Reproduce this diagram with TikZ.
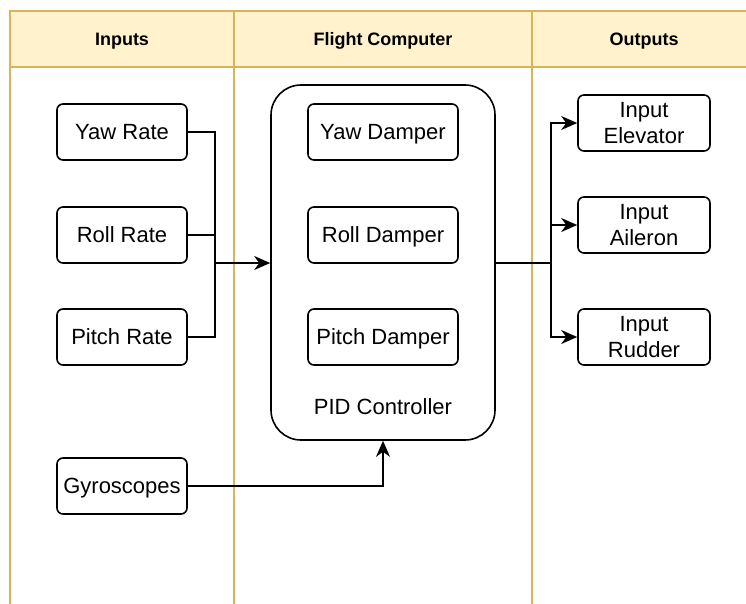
\documentclass[tikz,border=0pt]{standalone}
\usepackage{fontspec}
\setmainfont{Liberation Sans}
\usetikzlibrary{arrows.meta}
\definecolor{laneline}{HTML}{D6B656}
\definecolor{lanefill}{HTML}{FFF2CC}
\tikzset{
  box/.style={draw, line width=1.6pt, rounded corners=6pt, minimum width=130pt,
    minimum height=56pt, inner sep=0pt, align=center,
    text height=19.5pt, text depth=4pt,
    font=\fontsize{22}{26}\selectfont},
  twoline/.style={box, minimum width=132pt, text height=45.5pt},
  lanehead/.style={font=\bfseries\fontsize{18}{21}\selectfont},
  wire/.style={line width=1.6pt},
  arrow/.style={wire, -{Stealth[length=16pt, width=14pt, inset=5pt]}},
}
\begin{document}
\begin{tikzpicture}[x=1pt, y=-1pt]
\useasboundingbox (0,0) rectangle (746,603);

% swimlane table
\fill[lanefill] (10,11) rectangle (760,67);
\draw[laneline, line width=1.4pt] (760,11) -- (10,11) -- (10,610);
\draw[laneline, line width=1.4pt] (10,67) -- (760,67);
\draw[laneline, line width=1.4pt] (234,11) -- (234,610);
\draw[laneline, line width=1.4pt] (532,11) -- (532,610);
\node[lanehead] (hin) at (122,41) {Inputs};
\node[lanehead] (hfc) at (383,41) {Flight Computer};
\node[lanehead] (hout) at (644,41) {Outputs};

% sensors
\node[box] (yawrate) at (122,132) {Yaw Rate};
\node[box] (rollrate) at (122,235) {Roll Rate};
\node[box] (pitchrate) at (122,337) {Pitch Rate};
\node[box] (gyro) at (122,486) {Gyroscopes};

% flight computer
\node[draw, line width=1.6pt, rounded corners=30pt, minimum width=224pt,
  minimum height=355pt, inner sep=0pt] (pid) at (383,262.5) {};
\node[box, minimum width=150pt] (yawd) at (383,132) {Yaw Damper};
\node[box, minimum width=150pt] (rolld) at (383,235) {Roll Damper};
\node[box, minimum width=150pt] (pitchd) at (383,337) {Pitch Damper};
\node[font=\fontsize{22}{26}\selectfont, text height=19.5pt, text depth=4pt,
  inner sep=0pt] (pidlabel) at (383,407) {PID Controller};

% actuator commands
\node[twoline] (elev) at (644,123) {Input\\Elevator};
\node[twoline] (ail) at (644,225) {Input\\Aileron};
\node[twoline] (rud) at (644,337) {Input\\Rudder};

% input bus
\coordinate (busL) at (215,263);
\draw[wire] (yawrate.east) -| (busL) |- (pitchrate.east);
\draw[wire] (rollrate.east) -- (rollrate.east -| busL);
\draw[arrow] (busL) -- (busL -| pid.west);

% gyroscope feed
\draw[arrow] (gyro.east) -| (pid.south);

% output bus
\coordinate (busR) at (551,263);
\draw[wire] (busR -| pid.east) -- (busR);
\draw[arrow] (busR) |- (elev.west);
\draw[arrow] (busR) |- (ail.west);
\draw[arrow] (busR) |- (rud.west);
\end{tikzpicture}
\end{document}
